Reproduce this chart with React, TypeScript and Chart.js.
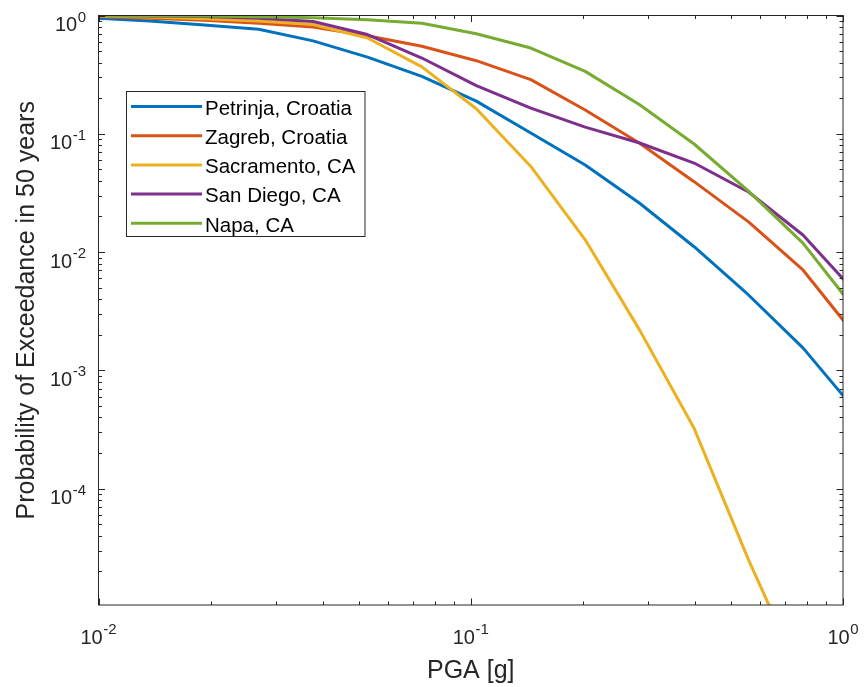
import React, { useEffect, useRef } from "react";
import { Chart, registerables } from "chart.js";

Chart.register(...registerables);

// PGA levels [g]
const pga = [0.0098, 0.01373, 0.01923, 0.02693, 0.03771, 0.0528, 0.0739, 0.1035, 0.145, 0.203, 0.2843, 0.3981, 0.5575, 0.7806, 1.0931];

// Probability of exceedance in 50 years
const petrinja = [0.95, 0.9, 0.83, 0.765, 0.61, 0.445, 0.306, 0.189, 0.1016, 0.0545, 0.0259, 0.0111, 0.00434, 0.00155, 0.00044];
const zagreb = [0.98, 0.95, 0.91, 0.86, 0.8, 0.675, 0.55, 0.415, 0.287, 0.159, 0.0831, 0.0394, 0.018, 0.00706, 0.00188];
const sacramento = [0.99, 0.97, 0.94, 0.9, 0.84, 0.645, 0.368, 0.163, 0.053, 0.0127, 0.00219, 0.000324, 0.000025, 0.0000024, 0.00000015];
const sanDiego = [1.0, 0.99, 0.98, 0.95, 0.89, 0.69, 0.437, 0.255, 0.165, 0.114, 0.0836, 0.0566, 0.0322, 0.01395, 0.00439];
const napa = [1.0, 0.995, 0.99, 0.975, 0.955, 0.92, 0.86, 0.7, 0.531, 0.337, 0.176, 0.082, 0.0328, 0.0119, 0.0031];

const seriesNames = ["Petrinja, Croatia", "Zagreb, Croatia", "Sacramento, CA", "San Diego, CA", "Napa, CA"];
const seriesValues = [petrinja, zagreb, sacramento, sanDiego, napa];
const seriesColors = ["#0072BD", "#D95319", "#EDB120", "#7E2F8E", "#77AC30"];

const xTickExponents = [-2, -1, 0];
const yTickExponents = [-4, -3, -2, -1, 0];
const xAxisLabel = "PGA [g]";
const yAxisLabel = "Probability of Exceedance in 50 years";

const X_MIN = 0.01;
const X_MAX = 1;
const Y_MIN = 1.04e-5;
const Y_MAX = 1;

const FONT = '"Liberation Sans", Arial, Helvetica, sans-serif';
const AXIS = "#262626";

function drawPow(ctx: CanvasRenderingContext2D, exp: number, x: number, yBase: number, align: "center" | "right") {
  const baseFont = `20px ${FONT}`;
  const expFont = `15px ${FONT}`;
  const base = "10";
  const e = String(exp);
  ctx.font = baseFont;
  const wb = ctx.measureText(base).width;
  ctx.font = expFont;
  const we = ctx.measureText(e).width;
  const total = wb + we + 0.5;
  const start = align === "center" ? x - total / 2 : x - total;
  ctx.textAlign = "left";
  ctx.textBaseline = "alphabetic";
  ctx.font = baseFont;
  ctx.fillText(base, start, yBase);
  ctx.font = expFont;
  ctx.fillText(e, start + wb + 0.5, yBase - 9.5);
}

const decorPlugin = {
  id: "matlabDecor",
  afterDatasetsDraw(chart: any) {
    const { ctx, chartArea: a, scales } = chart;
    const xs = scales.x;
    const ys = scales.y;
    ctx.save();
    ctx.strokeStyle = AXIS;
    ctx.fillStyle = AXIS;
    ctx.lineWidth = 1;

    // frame
    ctx.strokeRect(a.left, a.top, a.right - a.left, a.bottom - a.top);

    // ticks (inward, all four sides)
    ctx.beginPath();
    for (let d = -6; d <= 1; d++) {
      for (let m = 1; m <= 9; m++) {
        const v = m * Math.pow(10, d);
        const len = m === 1 ? 6.5 : 3.5;
        if (v >= X_MIN * 0.9999 && v <= X_MAX * 1.0001) {
          const px = Math.round(xs.getPixelForValue(v)) + 0.5;
          ctx.moveTo(px, a.bottom);
          ctx.lineTo(px, a.bottom - len);
          ctx.moveTo(px, a.top);
          ctx.lineTo(px, a.top + len);
        }
        if (v >= Y_MIN && v <= Y_MAX * 1.0001) {
          const py = Math.round(ys.getPixelForValue(v)) + 0.5;
          ctx.moveTo(a.left, py);
          ctx.lineTo(a.left + len, py);
          ctx.moveTo(a.right, py);
          ctx.lineTo(a.right - len, py);
        }
      }
    }
    ctx.stroke();

    // tick labels
    for (const e of xTickExponents) {
      const px = xs.getPixelForValue(Math.pow(10, e));
      drawPow(ctx, e, px, a.bottom + 38.5, "center");
    }
    for (const e of yTickExponents) {
      const py = ys.getPixelForValue(Math.pow(10, e));
      drawPow(ctx, e, a.left - 12.5, py + 15.5, "right");
    }

    // axis labels
    ctx.font = `25px ${FONT}`;
    ctx.textAlign = "center";
    ctx.textBaseline = "alphabetic";
    ctx.fillText(xAxisLabel, (a.left + a.right) / 2, 678);
    ctx.save();
    ctx.translate(33.5, (a.top + a.bottom) / 2);
    ctx.rotate(-Math.PI / 2);
    ctx.fillText(yAxisLabel, 0, 0);
    ctx.restore();

    // legend
    const lx = 126.5, ly = 91.5, lw = 238.5, lh = 145;
    ctx.fillStyle = "#ffffff";
    ctx.fillRect(lx, ly, lw, lh);
    ctx.strokeStyle = AXIS;
    ctx.lineWidth = 1;
    ctx.strokeRect(lx, ly, lw, lh);
    ctx.font = `20.5px ${FONT}`;
    ctx.textAlign = "left";
    ctx.textBaseline = "alphabetic";
    seriesNames.forEach((name, i) => {
      const ry = 106.5 + i * 29.2;
      ctx.strokeStyle = seriesColors[i];
      ctx.lineWidth = 3;
      ctx.beginPath();
      ctx.moveTo(131, ry);
      ctx.lineTo(202, ry);
      ctx.stroke();
      ctx.fillStyle = "#000000";
      ctx.fillText(name, 205, ry + 8.3);
    });

    ctx.restore();
  },
};

export default function App() {
  const canvasRef = useRef<HTMLCanvasElement | null>(null);

  useEffect(() => {
    const canvas = canvasRef.current;
    if (!canvas) return;
    const datasets = seriesNames.map((name, i) => ({
      label: name,
      data: pga.map((x, j) => ({ x, y: seriesValues[i][j] })),
      borderColor: seriesColors[i],
      backgroundColor: seriesColors[i],
      borderWidth: 3,
      pointRadius: 0,
      pointHoverRadius: 0,
      fill: false,
      tension: 0,
      borderJoinStyle: "round" as const,
      order: seriesNames.length - 1 - i,
    }));
    const chart = new Chart(canvas, {
      type: "line",
      data: { datasets },
      options: {
        responsive: false,
        maintainAspectRatio: false,
        animation: false,
        devicePixelRatio: 1,
        layout: { padding: { left: 98.5, right: 22, top: 15.5, bottom: 82 } },
        plugins: {
          legend: { display: false },
          tooltip: { enabled: false },
        },
        events: [],
        scales: {
          x: { type: "logarithmic", min: X_MIN, max: X_MAX, display: false },
          y: { type: "logarithmic", min: Y_MIN, max: Y_MAX, display: false },
        },
      },
      plugins: [decorPlugin],
    });
    return () => chart.destroy();
  }, []);

  return (
    <div style={{ position: "fixed", left: 0, top: 0, width: 865, height: 687, background: "#ffffff" }}>
      <canvas ref={canvasRef} width={865} height={687} style={{ display: "block" }} />
    </div>
  );
}
